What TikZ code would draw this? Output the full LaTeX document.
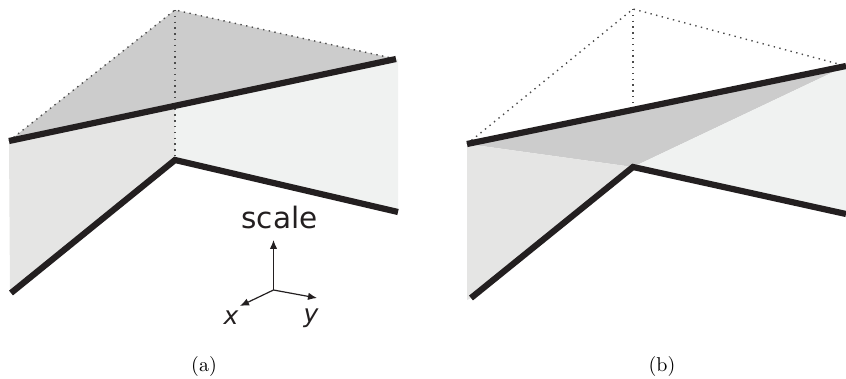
\documentclass[tikz,border=0pt]{standalone}
\usepackage{fontspec}
\usetikzlibrary{arrows.meta}
\newfontfamily\axisfont{DejaVu Sans}
\definecolor{topgrey}{HTML}{CCCCCC}
\definecolor{leftgrey}{HTML}{E5E5E4}
\definecolor{rightgrey}{HTML}{F0F2F1}
\definecolor{inkblack}{HTML}{231F20}
\tikzset{
  edgeline/.style={inkblack, line width=6.2pt},
  hiddenline/.style={black!70, line width=1.4pt, dash pattern=on 1.4pt off 4.4pt},
  axisline/.style={inkblack, line width=1.2pt, -{Latex[length=9pt,width=7.5pt]}},
  axislabel/.style={inner sep=0pt, text=inkblack},
  caption/.style={inner sep=0pt, scale=2, transform shape}
}
\begin{document}
\begin{tikzpicture}[x=1pt,y=-1pt]
      \useasboundingbox (0,0) rectangle (846,379);

      % Left panel
      \coordinate (aApex) at (175,10);
      \coordinate (aLeft) at (9,141);
      \coordinate (aRight) at (396,59);
      \coordinate (aEdge) at (398,59);
      \coordinate (aMid) at (175,105);
      \coordinate (aCorner) at (175,160);
      \coordinate (aFoot) at (11,293);
      \coordinate (aEnd) at (398,212);

      \fill[topgrey] (aLeft) -- (aApex) -- (aRight) -- cycle;
      \fill[leftgrey] (aLeft) -- (aMid) -- (aCorner) -- (aFoot) -- (10,293) -- cycle;
      \fill[rightgrey] (aMid) -- (aEdge) -- (aEnd) -- (aCorner) -- cycle;

      \draw[hiddenline] (aLeft) -- (aApex) -- (aRight);
      \draw[hiddenline] (aApex) -- (aCorner);

      \draw[edgeline] (aLeft) -- (aRight);
      \draw[edgeline] (aFoot) -- (aCorner) -- (aEnd);

      % Axes
      \coordinate (origin) at (273.5,290);
      \coordinate (axisUp) at (273.5,240);
      \coordinate (axisX) at (240,306);
      \coordinate (axisY) at (317,298);
      \foreach \tip in {axisUp, axisX, axisY}{
          \draw[axisline] (origin) -- (\tip);
        }
      \node[axislabel, font=\axisfont\fontsize{29.5}{32}\selectfont] (scaleLabel) at (279.5,218) {scale};
      \node[axislabel, font=\axisfont\itshape\fontsize{25}{28}\selectfont] (xLabel) at (231,318) {x};
      \node[axislabel, font=\axisfont\itshape\fontsize{25}{28}\selectfont] (yLabel) at (311,318) {y};
      \node[caption] (captionA) at (204,366) {(a)};

      % Right panel
      \coordinate (bApex) at (633,9);
      \coordinate (bLeft) at (467,144);
      \coordinate (bRight) at (846,66);
      \coordinate (bMid) at (633,105);
      \coordinate (bCorner) at (633,167);
      \coordinate (bFoot) at (471,298);
      \coordinate (bEnd) at (846,214);

      \fill[topgrey] (bLeft) -- (bRight) -- (bCorner) -- cycle;
      \fill[leftgrey] (bLeft) -- (bCorner) -- (bFoot) -- (467,300) -- cycle;
      \fill[rightgrey] (bCorner) -- (bRight) -- (bEnd) -- cycle;

      \draw[hiddenline] (bLeft) -- (bApex) -- (bRight);
      \draw[hiddenline] (bApex) -- (bMid);

      \draw[edgeline] (bLeft) -- (bRight);
      \draw[edgeline] (bFoot) -- (bCorner) -- (bEnd);

      \node[caption] (captionB) at (662,366) {(b)};

    \end{tikzpicture}
\end{document}
